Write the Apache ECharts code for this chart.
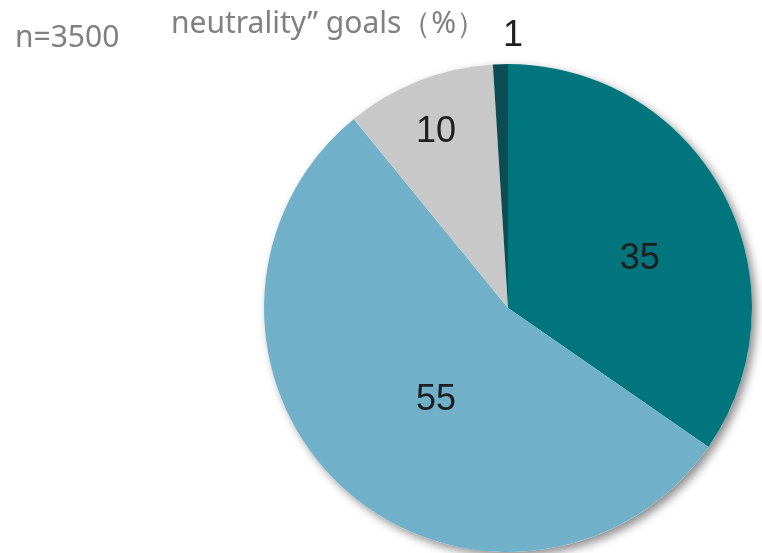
<!DOCTYPE html>
<html>
<head>
<meta charset="utf-8">
<script src="https://cdn.jsdelivr.net/npm/echarts@6/dist/echarts.min.js"></script>
<style>
html,body{margin:0;padding:0;background:#fff;}
#chart{width:762px;height:553px;}
</style>
</head>
<body>
<div id="chart"></div>
<script>
var categories = ['A', 'B', 'C', 'D'];
var values = [35, 55, 10, 1];
var colors = ['#00757E', '#71B0C9', '#C8C8C8', '#0B4D53'];
var titleText = 'neutrality\u201D goals\uFF08%\uFF09';
var sampleText = 'n=3500';

// label placement nudges (horizontal padding, vertical line offset) to match reference
var labelPadX = [[0, 0, 0, 42], [0, 0, 0, 26], [0, 53, 0, 0], [0, 0, 0, 0]];
var labelShiftY = [9, 0, -60, 0];
var outsideIndex = 3;

var chart = echarts.init(document.getElementById('chart'), null, {renderer: 'canvas'});

var data = values.map(function (v, i) {
  var s = labelShiftY[i];
  var lbl = {padding: labelPadX[i]};
  var item = {
    name: categories[i],
    value: v,
    itemStyle: {color: colors[i]}
  };
  if (i === outsideIndex) {
    lbl.position = 'outside';
    lbl.alignTo = 'edge';
    lbl.edgeDistance = 503;
    item.labelLine = {show: false, length: 28, length2: 0};
  } else if (s > 0) {
    lbl.formatter = '\n{c}';
    lbl.lineHeight = 2 * s;
  } else if (s < 0) {
    lbl.formatter = '{c}\n';
    lbl.lineHeight = -2 * s;
  }
  item.label = lbl;
  return item;
});

var option = {
  animation: false,
  backgroundColor: '#ffffff',
  graphic: [
    {type: 'text', left: 15, top: 23, style: {text: sampleText, font: '30px "Noto Sans"', fill: '#808080'}},
    {type: 'text', left: 171, top: 9, style: {text: titleText, font: '30px "Noto Sans"', fill: '#808080'}}
  ],
  series: [
    {
      type: 'pie',
      silent: true,
      z: 1,
      center: [508, 308],
      radius: 244,
      label: {show: false},
      labelLine: {show: false},
      itemStyle: {color: '#ffffff', shadowColor: 'rgba(0,0,0,0.45)', shadowBlur: 10, shadowOffsetX: 4, shadowOffsetY: 4},
      data: [{value: 1}]
    },
    {
      type: 'pie',
      z: 2,
      center: [508, 308],
      radius: 244,
      startAngle: 90,
      clockwise: true,
      avoidLabelOverlap: false,
      label: {
        show: true,
        position: 'inside',
        formatter: '{c}',
        color: '#1e1e1e',
        fontFamily: '"Liberation Sans", Arial, sans-serif',
        fontSize: 36,
        lineHeight: 36
      },
      labelLine: {show: false},
      itemStyle: {borderWidth: 0},
      data: data
    }
  ]
};
chart.setOption(option);
</script>
</body>
</html>
